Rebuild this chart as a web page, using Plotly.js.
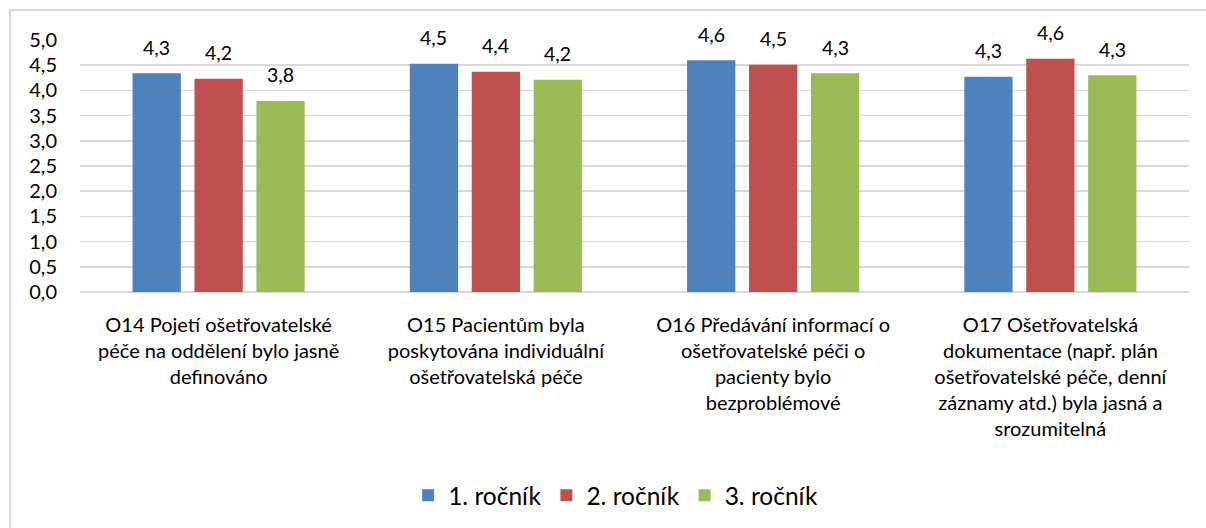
<!DOCTYPE html>
<html>
<head>
<meta charset="utf-8">
<script src="https://cdn.plot.ly/plotly-3.0.1.min.js"></script>
<style>
html,body{margin:0;padding:0;background:#fff;}
#wrap{position:relative;width:1206px;height:528px;overflow:hidden;}
#chart{width:1206px;height:528px;}
#frame{position:absolute;left:9px;top:9px;width:1300px;height:600px;border-left:2px solid #d9d9d9;border-top:2px solid #d9d9d9;pointer-events:none;}
</style>
</head>
<body>
<div id="wrap"><div id="chart"></div><div id="frame"></div></div>
<script>
const categories = [
  "O14 Pojetí ošetřovatelské<br>péče na oddělení bylo jasně<br>definováno",
  "O15 Pacientům byla<br>poskytována individuální<br>ošetřovatelská péče",
  "O16 Předávání informací o<br>ošetřovatelské péči o<br>pacienty bylo<br>bezproblémové",
  "O17 Ošetřovatelská<br>dokumentace (např. plán<br>ošetřovatelské péče, denní<br>záznamy atd.) byla jasná a<br>srozumitelná"
];
const seriesNames = ["1. ročník", "2. ročník", "3. ročník"];
const rocnik1 = [4.34, 4.53, 4.60, 4.27];
const rocnik2 = [4.23, 4.37, 4.51, 4.63];
const rocnik3 = [3.79, 4.21, 4.34, 4.30];
const colors = ["#4F81BD", "#C0504D", "#9BBB59"];

const font = "Lato, 'Open Sans', sans-serif";
const W = 1206, H = 528;
const margin = {l: 80, r: 17, t: 40, b: 235};
const bargap = 0.33;
const allSeries = [rocnik1, rocnik2, rocnik3];

const traces = allSeries.map((vals, i) => ({
  type: "bar",
  name: seriesNames[i],
  x: categories,
  y: vals,
  marker: {color: colors[i]},
  hoverinfo: "none"
}));

// value labels above bars, placed via data coordinates
const catW = (W - margin.l - margin.r) / categories.length;
const slotW = catW * (1 - bargap) / allSeries.length;
const annotations = [];
allSeries.forEach((vals, i) => {
  vals.forEach((v, j) => {
    annotations.push({
      x: categories[j], y: v, xref: "x", yref: "y",
      text: v.toFixed(1).replace(".", ","),
      showarrow: false,
      xshift: (i - (allSeries.length - 1) / 2) * slotW,
      yanchor: "middle", yshift: 26,
      font: {family: font, size: 19.5, color: "#000"}
    });
  });
});

const layout = {
  width: W, height: H,
  margin: margin,
  paper_bgcolor: "#fff", plot_bgcolor: "#fff",
  separators: ", ",
  font: {family: font, size: 19, color: "#000"},
  barmode: "group",
  bargap: bargap,
  bargroupgap: 0.22,
  showlegend: true,
  annotations: annotations,
  legend: {
    orientation: "h", x: 0.483, xanchor: "center", y: -0.8, yanchor: "middle",
    font: {family: font, size: 24.5, color: "#000"},
    itemwidth: 30, traceorder: "normal"
  },
  xaxis: {
    type: "category",
    tickfont: {family: font, size: 20, color: "#000"},
    showgrid: false, showline: false, ticks: "",
    ticklabelstandoff: 19,
    tickangle: 0
  },
  yaxis: {
    range: [0, 5], dtick: 0.5, tick0: 0,
    tickformat: ".1f",
    showgrid: true, gridcolor: "#d9d9d9", gridwidth: 1.5,
    zeroline: true, zerolinecolor: "#d9d9d9", zerolinewidth: 1.5,
    showline: false, ticks: "",
    ticklabelstandoff: 22,
    tickfont: {family: font, size: 20, color: "#000"}
  }
};

Plotly.newPlot("chart", traces, layout, {displayModeBar: false, staticPlot: true});
</script>
</body>
</html>
